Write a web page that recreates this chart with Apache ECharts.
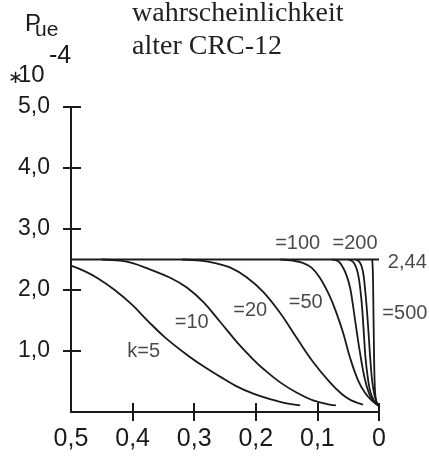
<!DOCTYPE html>
<html>
<head>
<meta charset="utf-8">
<script src="https://cdn.jsdelivr.net/npm/echarts@6/dist/echarts.min.js"></script>
<style>
  html, body { margin: 0; padding: 0; background: #fff; }
  #chart { width: 429px; height: 458px; }
</style>
</head>
<body>
<div id="chart"></div>
<script>
// tick values
const xTicks = [0.4, 0.3, 0.2, 0.1, 0]
const yTicks = [1, 2, 3, 4, 5]

// plateau line (labelled 2,44 in the figure)
const plateau = [[0.5, 2.5], [0, 2.5]]

// curves, [x, P_ue*1e4]
const k5 = [[0.5, 2.40], [0.478, 2.31], [0.456, 2.19], [0.429, 2.00], [0.401, 1.76], [0.375, 1.49],
  [0.347, 1.22], [0.312, 0.94], [0.285, 0.75], [0.258, 0.58], [0.231, 0.42], [0.204, 0.30],
  [0.177, 0.21], [0.150, 0.14], [0.128, 0.11]]
const k10 = [[0.45, 2.50], [0.42, 2.48], [0.40, 2.44], [0.375, 2.35], [0.339, 2.20], [0.312, 2.04],
  [0.285, 1.80], [0.258, 1.48], [0.231, 1.15], [0.204, 0.86], [0.188, 0.71], [0.161, 0.49],
  [0.134, 0.32], [0.107, 0.19], [0.080, 0.12], [0.070, 0.11]]
const k20 = [[0.32, 2.50], [0.29, 2.48], [0.266, 2.44], [0.242, 2.37], [0.215, 2.21], [0.188, 1.97],
  [0.161, 1.63], [0.134, 1.22], [0.107, 0.82], [0.080, 0.49], [0.060, 0.29], [0.045, 0.19], [0.026, 0.12]]
const k50 = [[0.16, 2.50], [0.14, 2.48], [0.125, 2.45], [0.11, 2.37], [0.096, 2.20], [0.080, 1.90],
  [0.069, 1.62], [0.058, 1.29], [0.047, 0.89], [0.034, 0.52], [0.023, 0.32], [0.012, 0.19],
  [0.004, 0.13], [0, 0.10]]
const k100 = [[0.076, 2.50], [0.066, 2.47], [0.058, 2.36], [0.052, 2.22], [0.047, 2.04], [0.043, 1.80],
  [0.039, 1.52], [0.031, 0.98], [0.023, 0.54], [0.016, 0.30], [0.010, 0.19], [0.004, 0.13], [0, 0.10]]
const k200 = [[0.050, 2.50], [0.042, 2.46], [0.036, 2.34], [0.032, 2.14], [0.028, 1.78], [0.025, 1.35],
  [0.022, 0.90], [0.018, 0.55], [0.014, 0.33], [0.008, 0.18], [0.003, 0.12], [0, 0.10]]
// one more curve between =200 and =500, no label of its own
const kMid = [[0.038, 2.50], [0.031, 2.45], [0.026, 2.30], [0.023, 2.05], [0.020, 1.72], [0.017, 1.30],
  [0.014, 0.85], [0.011, 0.50], [0.007, 0.26], [0.003, 0.14], [0, 0.10]]
const k500 = [[0.011, 2.50], [0.0100, 2.30], [0.0092, 1.80], [0.0084, 1.20], [0.0075, 0.65],
  [0.0062, 0.30], [0.004, 0.16], [0, 0.10]]

// curve annotations (data units)
const noteText = ['k=5', '=10', '=20', '=50', '=100', '=200', '=500', '2,44']
const noteX = [0.382, 0.304, 0.209, 0.119, 0.132, 0.039, -0.042, -0.046]
const noteY = [1.00, 1.46, 1.66, 1.79, 2.76, 2.76, 1.61, 2.45]

const ink = '#1a1a1a'
const sans = '"Liberation Sans", Arial, sans-serif'
const serif = '"Liberation Serif", "Times New Roman", serif'

const fmtX = (v) => Math.abs(v) < 1e-9 ? '0' : v.toFixed(1).replace('.', ',')
const fmtY = (v) => Math.abs(v) < 1e-9 ? '' : v.toFixed(1).replace('.', ',')

const curve = (name, pts) => ({
  name: name,
  type: 'line',
  data: pts,
  smooth: 0.4,
  showSymbol: false,
  silent: true,
  lineStyle: {color: ink, width: 1.8},
  z: 3
})

const chart = echarts.init(document.getElementById('chart'), null, {renderer: 'canvas'})

// two grids on the same rect: the 2nd one only carries the inward half of the ticks
const gridBox = {left: 71, right: 50, top: 107, bottom: 46, outerBoundsMode: 'none'}

const option = {
  animation: false,
  backgroundColor: '#fff',
  grid: [gridBox, {...gridBox}],
  xAxis: [
    {
      gridIndex: 0, type: 'value', inverse: true, min: 0, max: 0.5, interval: 0.1,
      axisLine: {onZero: false, lineStyle: {color: ink, width: 2}},
      axisTick: {show: true, customValues: xTicks, length: 9, lineStyle: {color: ink, width: 2}},
      axisLabel: {margin: 15, fontFamily: sans, fontSize: 25, color: ink, formatter: fmtX},
      splitLine: {show: false}
    },
    {
      gridIndex: 1, type: 'value', inverse: true, min: 0, max: 0.5, interval: 0.1,
      axisLine: {show: false, onZero: false},
      axisTick: {show: true, inside: true, customValues: xTicks, length: 9, lineStyle: {color: ink, width: 2}},
      axisLabel: {show: false},
      splitLine: {show: false}
    }
  ],
  yAxis: [
    {
      gridIndex: 0, type: 'value', min: 0, max: 5, interval: 1,
      axisLine: {show: true, onZero: false, lineStyle: {color: ink, width: 2}},
      axisTick: {show: true, customValues: yTicks, length: 8, lineStyle: {color: ink, width: 2}},
      axisLabel: {margin: 21, fontFamily: sans, fontSize: 23, color: ink, formatter: fmtY},
      splitLine: {show: false}
    },
    {
      gridIndex: 1, type: 'value', min: 0, max: 5, interval: 1,
      axisLine: {show: false, onZero: false},
      axisTick: {show: true, inside: true, customValues: yTicks, length: 10, lineStyle: {color: ink, width: 2}},
      axisLabel: {show: false},
      splitLine: {show: false}
    }
  ],
  series: [
    {
      name: 'plateau', type: 'line', data: plateau, showSymbol: false, silent: true,
      lineStyle: {color: ink, width: 2}, z: 3
    },
    curve('k=5', k5),
    curve('k=10', k10),
    curve('k=20', k20),
    curve('k=50', k50),
    curve('k=100', k100),
    curve('k=200', k200),
    curve('k=?', kMid),
    curve('k=500', k500),
    {
      name: 'notes', type: 'scatter', symbolSize: 0, clip: false, silent: true,
      data: noteX.map((x, i) => [x, noteY[i]]),
      label: {
        show: true, position: 'inside', fontFamily: sans, fontSize: 20, color: ink,
        formatter: (p) => noteText[p.dataIndex]
      },
      z: 5
    }
  ],
  graphic: [
    {type: 'text', left: 132, top: 0, style: {text: 'wahrscheinlichkeit', font: '28px ' + serif, fill: '#222'}},
    {type: 'text', left: 132, top: 33, style: {text: 'alter CRC-12', font: '28px ' + serif, fill: '#222'}},
    {type: 'text', left: 25, top: 12, style: {text: 'P', font: '24px ' + sans, fill: ink}},
    {type: 'text', left: 35, top: 20, style: {text: 'ue', font: '21px ' + sans, fill: ink}},
    {type: 'text', left: 8, top: 69, style: {text: '\u2217', font: '18px "DejaVu Sans"', fill: ink}},
    {type: 'text', left: 18, top: 63, style: {text: '10', font: '24px ' + sans, fill: ink}},
    {type: 'text', left: 49, top: 44, style: {text: '-4', font: '25px ' + sans, fill: ink}}
  ]
}

chart.setOption(option)
</script>
</body>
</html>
